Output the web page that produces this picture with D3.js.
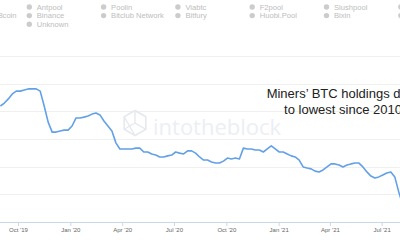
<!DOCTYPE html>
<html>
<head>
<meta charset="utf-8">
<script src="https://cdn.jsdelivr.net/npm/d3@7"></script>
<style>
  html, body { margin: 0; padding: 0; background: #fff; }
  svg { display: block; font-family: "Liberation Sans", Arial, sans-serif; }
</style>
</head>
<body>
<svg id="chart" width="400" height="240"></svg>
<script>
// legend entries, flowing left to right, 7 per row (first and last column are cut off)
const legendNames = [
    "Sigmapool", "Antpool", "Poolin", "Viabtc", "F2pool", "Slushpool", "BTC.com",
    "1THash&58coin", "Binance", "Bitclub Network", "Bitfury", "Huobi.Pool", "Bixin", "BTC.TOP",
    "Okex", "Unknown"
];

// weekly miners' BTC holdings (thousand BTC), starting 31 Aug 2019
const startDate = new Date(2019, 7, 31);
const holdings = [
    1821.9, 1823.0, 1824.5, 1826.3, 1827.3, 1827.3, 1827.7, 1828.1, 1828.1, 1828.1,
    1827.3, 1821.9, 1816.1, 1812.5, 1812.5, 1812.9, 1813.2, 1813.2, 1814.7, 1817.6,
    1817.6, 1817.9, 1818.3, 1819.0, 1819.4, 1818.7, 1816.5, 1814.7, 1812.9, 1808.6,
    1806.4, 1806.4, 1806.4, 1806.4, 1806.7, 1806.7, 1805.3, 1805.3, 1804.6, 1804.2,
    1803.5, 1803.5, 1803.9, 1804.2, 1805.3, 1804.9, 1804.6, 1805.7, 1805.7, 1804.9,
    1803.5, 1802.4, 1802.4, 1801.7, 1801.3, 1801.3, 1802.0, 1803.1, 1802.8, 1803.1,
    1802.8, 1806.7, 1806.4, 1806.4, 1806.0, 1806.0, 1805.3, 1806.4, 1807.5, 1806.4,
    1805.3, 1805.3, 1804.6, 1803.9, 1803.5, 1802.4, 1799.9, 1799.5, 1799.2, 1798.4,
    1798.1, 1798.8, 1799.9, 1801.0, 1801.0, 1800.6, 1799.9, 1800.6, 1801.0, 1801.3,
    1801.3, 1799.9, 1798.1, 1796.6, 1795.9, 1796.3, 1797.0, 1797.7, 1798.1, 1796.3,
    1790.8, 1786.1
];

const xTicks = [
    new Date(2019, 9, 1), new Date(2020, 0, 1), new Date(2020, 3, 1), new Date(2020, 6, 1),
    new Date(2020, 9, 1), new Date(2021, 0, 1), new Date(2021, 3, 1), new Date(2021, 6, 1)
];
const yTicks = [1780, 1790, 1800, 1810, 1820, 1830, 1840];

const annotation = ["Miners’ BTC holdings drop", "to lowest since 2010"];

const svg = d3.select("#chart");

const data = holdings.map((v, i) => ({ date: d3.timeDay.offset(startDate, 7 * i), value: v }));

// plot area is cropped: scales extend past the edges
const x = d3.scaleTime()
    .domain([xTicks[0], xTicks[xTicks.length - 1]])
    .range([18, 381.7]);

const y = d3.scaleLinear()
    .domain([1780, 1840])
    .range([222, 56]);

//grid
svg.append("g")
    .selectAll("line")
    .data(yTicks.slice(1))
    .join("line")
    .attr("x1", 0)
    .attr("x2", 400)
    .attr("y1", d => Math.round(y(d)) + 0.5)
    .attr("y2", d => Math.round(y(d)) + 0.5)
    .attr("stroke", "#efefef")
    .attr("stroke-width", 1);

//watermark
const wm = svg.append("g").attr("transform", "translate(135,123)");
const hex = d3.range(6).map(i => {
    const a = Math.PI / 3 * i - Math.PI / 2;
    return [12.5 * Math.cos(a), 12.5 * Math.sin(a)];
});
wm.append("path")
    .attr("d", d3.line()(hex) + "Z")
    .attr("fill", "none")
    .attr("stroke", "#e6e9ee")
    .attr("stroke-width", 1.6);
wm.append("path")
    .attr("d", `M${hex[0]}L0,0L${hex[2]}M0,0L${hex[4]}M${hex[1]}L0,${-12.5}M${hex[5]}L${hex[3]}`)
    .attr("fill", "none")
    .attr("stroke", "#e6e9ee")
    .attr("stroke-width", 1.4);
svg.append("text")
    .attr("x", 153)
    .attr("y", 135)
    .attr("font-family", "'Open Sans', sans-serif")
    .attr("font-size", 22)
    .attr("fill", "#eceff3")
    .text("intotheblock");

//x axis
const xAxis = svg.append("g")
    .attr("transform", "translate(0,222)")
    .call(d3.axisBottom(x)
        .tickValues(xTicks)
        .tickSize(4)
        .tickPadding(2)
        .tickFormat(d3.timeFormat("%b '%y")));
xAxis.select(".domain").remove();
xAxis.selectAll(".tick line").attr("stroke", "#ccd6eb");
xAxis.selectAll(".tick text")
    .attr("fill", "#666")
    .attr("font-size", 6)
    .attr("font-family", "'Liberation Sans', Arial, sans-serif");

svg.append("line")
    .attr("x1", 0)
    .attr("x2", 400)
    .attr("y1", 222.5)
    .attr("y2", 222.5)
    .attr("stroke", "#ccd6eb");

//line
svg.append("path")
    .datum(data)
    .attr("fill", "none")
    .attr("stroke", "#62a0e8")
    .attr("stroke-width", 1.6)
    .attr("stroke-linejoin", "round")
    .attr("d", d3.line().x(d => x(d.date)).y(d => y(d.value)));

//legend
const legend = svg.append("g")
    .selectAll("g")
    .data(legendNames)
    .join("g")
    .attr("transform", (d, i) => `translate(${-45 + (i % 7) * 74.3},${7 + Math.floor(i / 7) * 8.6})`);
legend.append("circle")
    .attr("r", 2.7)
    .attr("fill", "#cccccc");
legend.append("text")
    .attr("x", 7.5)
    .attr("dy", "0.35em")
    .attr("font-size", 7.6)
    .attr("fill", "#bdbdbd")
    .text(d => d);

//annotation
svg.append("text")
    .attr("text-anchor", "middle")
    .attr("font-size", 13)
    .attr("fill", "#222")
    .selectAll("tspan")
    .data(annotation)
    .join("tspan")
    .attr("x", 343)
    .attr("y", (d, i) => 98 + i * 16)
    .text(d => d);
</script>
</body>
</html>
